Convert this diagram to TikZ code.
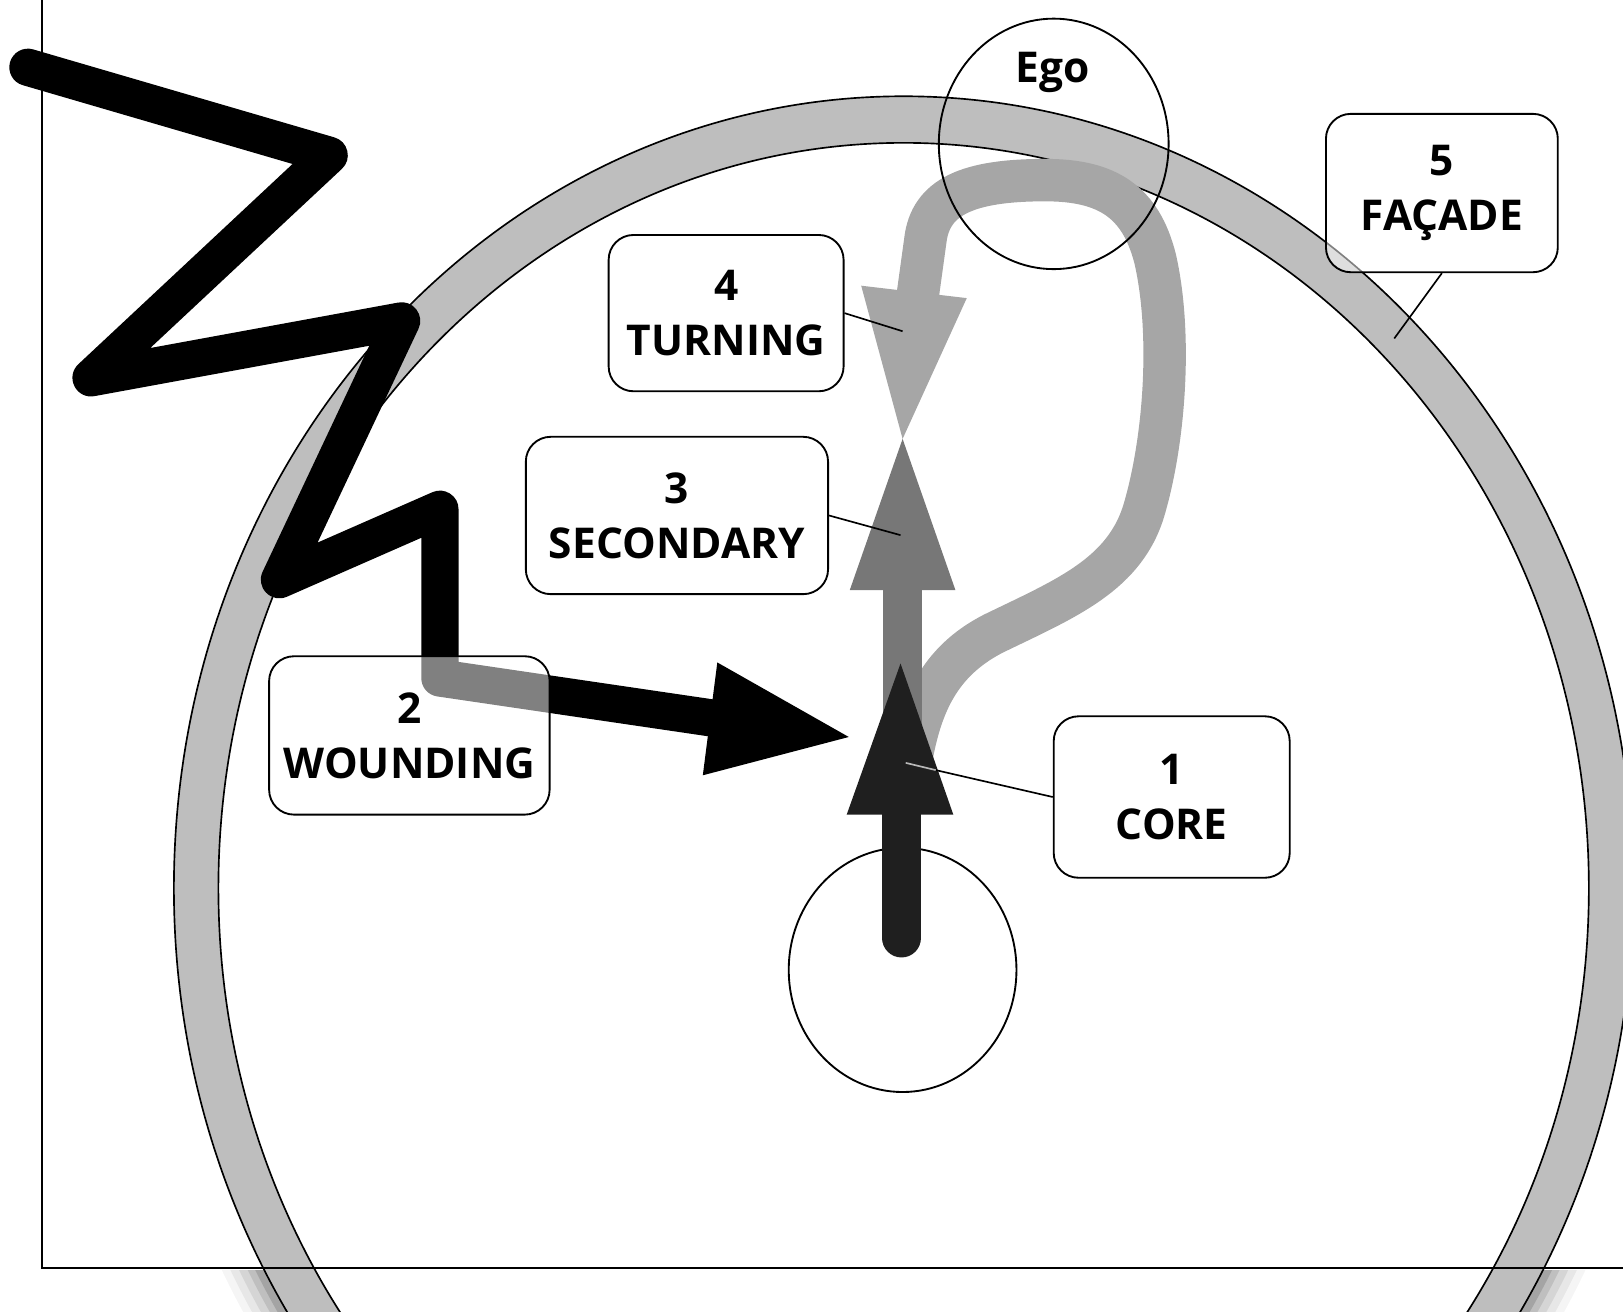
\documentclass[tikz,border=0pt]{standalone}
\usepackage{fontspec}
\setmainfont{Open Sans}
\usetikzlibrary{shapes.geometric}
\definecolor{ringgray}{HTML}{BEBEBE}
\definecolor{coregray}{HTML}{1F1F1F}
\definecolor{secgray}{HTML}{777777}
\definecolor{turngray}{HTML}{A6A6A6}
\begin{document}
\begin{tikzpicture}[x=1pt,y=-1pt,
  lbl/.style={draw=black, line width=1.8pt, rounded corners=24pt, fill=white, fill opacity=0.5, text opacity=1, align=center, font=\fontsize{41}{53}\selectfont\bfseries, inner sep=0pt},
  ptr/.style={line width=1.6pt, draw=black},
  oval/.style={ellipse, draw=black, line width=1.8pt, inner sep=0pt},
  ringline/.style={line width=1.6pt, draw=black}]
\useasboundingbox (0,0) rectangle (1568,1267);

% shadow of the ring below the canvas edge
\begin{scope}
  \clip (0,1227) rectangle (1568,1267);
  \foreach \w/\o in {70/0.04,55/0.06,40/0.08,25/0.10,12/0.14}
    \draw[black, opacity=\o, line width=\w pt] (873,862) ellipse [x radius=705, y radius=765];
\end{scope}

% ring (facade)
\fill[ringgray, even odd rule] (873,858) ellipse [x radius=705, y radius=765] (873,858) ellipse [x radius=662, y radius=720];
\draw[ringline] (873,858) ellipse [x radius=705, y radius=765];
\draw[ringline] (873,858) ellipse [x radius=662, y radius=720];

% canvas frame
\coordinate (ftop) at (41,0);
\coordinate (fcorner) at (41,1225);
\coordinate (fright) at (1568,1225);
\draw[line width=2pt] (ftop) -- (fcorner) -- (fright);

% core circle
\node[oval, minimum width=220pt, minimum height=236pt] (corec) at (872,937) {};

% wounding zigzag arrow
\coordinate (z1) at (27,65);
\coordinate (z2) at (318,150);
\coordinate (z3) at (88,365);
\coordinate (z4) at (388,310);
\coordinate (z5) at (270,560);
\coordinate (z6) at (425,492);
\coordinate (z7) at (425,655);
\coordinate (z8) at (690,694);
\draw[line width=36pt, line join=round, line cap=round] (z1) -- (z2) -- (z3) -- (z4) -- (z5) -- (z6) -- (z7) -- (z8);
\fill (693,640) -- (820,712) -- (679,749) -- cycle;

% turning loop
\coordinate (t0) at (880,735);
\coordinate (t9) at (886,290);
\draw[turngray, line width=41pt] (t0) .. controls (889,685) and (905,640) .. (960,612)
  .. controls (1030,578) and (1088,555) .. (1106,490)
  .. controls (1126,420) and (1132,320) .. (1116,250)
  .. controls (1102,195) and (1070,174) .. (1010,174)
  .. controls (935,174) and (899,190) .. (894,232) -- (t9);
\fill[turngray] (832,276) -- (934,288) -- (872,424) -- cycle;

% secondary arrow
\fill[secgray] (853,742) rectangle (891,568);
\fill[secgray] (821,570) -- (872,424) -- (923,570) -- cycle;

% core arrow
\coordinate (c0) at (871,906);
\coordinate (c1) at (871,785);
\draw[coregray, line width=38pt, line cap=round] (c0) -- (c1);
\fill[coregray] (818,787) -- (870,641) -- (921,787) -- cycle;

% labels
\node[lbl, minimum width=227pt, minimum height=151pt] (b4) at (701.5,302.5) {4\\TURNING};
\node[lbl, minimum width=292pt, minimum height=152pt] (b3) at (654,498) {3\\SECONDARY};
\node[lbl, minimum width=271pt, minimum height=153pt] (b2) at (395.5,710.5) {2\\WOUNDING};
\node[lbl, minimum width=228pt, minimum height=156pt] (b1) at (1132,770) {1\\CORE};
\node[lbl, minimum width=224pt, minimum height=153pt] (b5) at (1393,186.5) {5\\FAÇADE};

% ego
\node[oval, minimum width=222pt, minimum height=242pt] (ego) at (1018,139) {};
\node[font=\fontsize{41}{53}\selectfont\bfseries, inner sep=0pt] (egotxt) at (1017,70) {Ego};

% pointers
\coordinate (p4) at (872,320);
\coordinate (p3) at (870,517);
\coordinate (p1) at (875,737);
\coordinate (p1e) at (904,744);
\coordinate (p5) at (1347,327);
\draw[ptr] (b4.east) -- (p4);
\draw[ptr] (b3.east) -- (p3);
\draw[ptr] (b1.west) -- (p1e);
\draw[line width=1.6pt, gray!55] (p1e) -- (p1);
\draw[ptr] (b5.south) -- (p5);
\end{tikzpicture}
\end{document}
